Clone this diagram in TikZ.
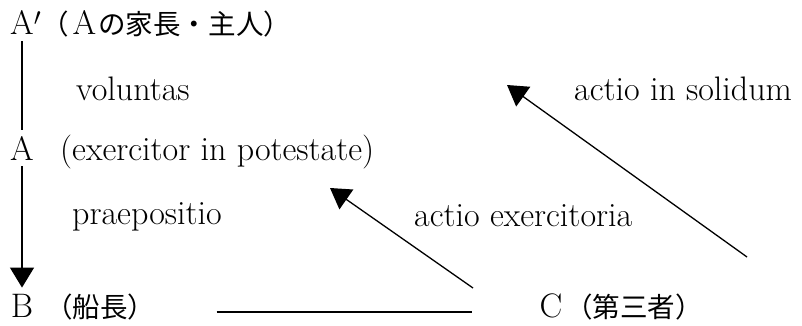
\documentclass[tikz,border=0pt]{standalone}
\usepackage{fontspec}
\newfontfamily\jp[Scale=0.81]{Noto Sans CJK JP}
\usetikzlibrary{arrows.meta}

\begin{document}
\begin{tikzpicture}[x=1pt, y=-1pt, font=\fontsize{34}{40}\selectfont]
    \definecolor{lineColour}{HTML}{000000}
    \tikzset{
        person/.style={anchor=base, inner sep=6pt},
        desc/.style={anchor=base west, inner sep=0pt},
        link/.style={draw=lineColour, line width=1.3pt},
        claim/.style={link, -{Triangle[length=20pt,width=24pt]}}
    }

    \useasboundingbox (0,0) rectangle (802,326);

    % Persons
    \node[person] (ap) at (22,35) {A\rlap{$'$}};
    \node[person] (a) at (22,160) {A};
    \node[person] (b) at (22,317) {B};
    \node[person] (c) at (551,317) {C};

    % Descriptions of the persons
    \node[desc] (apdesc) at (41,35) {{\jp （}\hspace{4pt}A\hspace{2pt}{\jp の家長・主人）}};
    \node[desc] (adesc) at (60,160) {(exercitor in potestate)};
    \node[desc] (bdesc) at (45,317) {\jp （船長）};
    \node[desc] (cdesc) at (565,317) {\jp （第三者）};

    % Relations between A', A and B
    \draw[link] (ap) -- (a);
    \draw[claim] (a) -- (b);
    \node[desc] (vol) at (76,100) {voluntas};
    \node[desc] (prae) at (72,224) {praepositio};

    % Contract between B and C
    \draw[link] ([xshift=61pt,yshift=5pt]bdesc.base east) -- ([xshift=-61pt,yshift=5pt]c.base west);

    % Actions of C
    \coordinate (exStart) at (473,288);
    \coordinate (exEnd) at (330,188);
    \coordinate (solStart) at (747,257);
    \coordinate (solEnd) at (507,85);
    \draw[claim] (exStart) -- (exEnd);
    \draw[claim] (solStart) -- (solEnd);
    \node[desc] (exer) at (414,226) {actio exercitoria};
    \node[desc] (sol) at (574,101) {actio in solidum};

\end{tikzpicture}
\end{document}
